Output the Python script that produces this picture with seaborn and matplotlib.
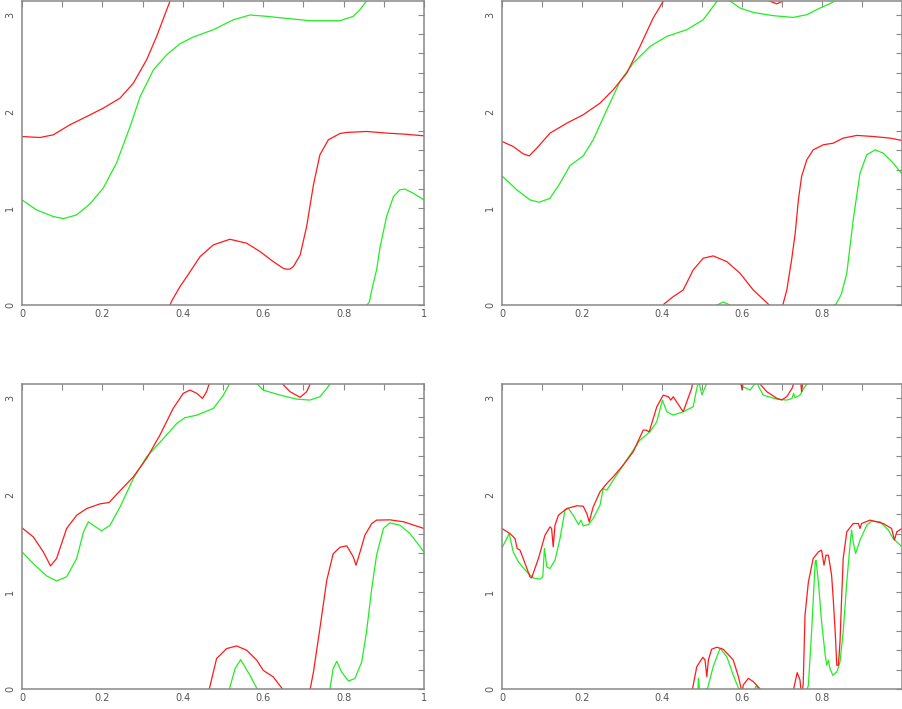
import numpy as np
import matplotlib
matplotlib.use("Agg")
import matplotlib.pyplot as plt
import seaborn as sns
from matplotlib.ticker import MultipleLocator

sns.set_style("white")
plt.rcParams["font.family"] = ["DejaVu Sans"]

PI = np.pi

# ---------------- data (unwrapped phase, shown modulo pi) ----------------
# top-left
tl_red_x = [0, 0.045, 0.078, 0.119, 0.161, 0.202, 0.244, 0.277, 0.310, 0.335, 0.360, 0.372,
            0.393, 0.41, 0.443, 0.476, 0.517, 0.559, 0.592, 0.625, 0.650, 0.658, 0.667, 0.675,
            0.692, 0.708, 0.725, 0.741, 0.762, 0.791, 0.808, 0.857, 0.907, 0.949, 1.0]
tl_red_y = [1.741, 1.731, 1.759, 1.862, 1.948, 2.034, 2.138, 2.293, 2.534, 2.776, 3.052, 3.18,
            3.332, 3.435, 3.642, 3.763, 3.821, 3.780, 3.694, 3.590, 3.521, 3.511, 3.514, 3.538,
            3.659, 3.952, 4.383, 4.693, 4.849, 4.914, 4.925, 4.935, 4.918, 4.908, 4.890]
tl_green_x = [0, 0.036, 0.078, 0.103, 0.136, 0.169, 0.202, 0.235, 0.269, 0.294, 0.327, 0.360,
              0.393, 0.426, 0.476, 0.526, 0.567, 0.609, 0.658, 0.716, 0.791, 0.824, 0.841, 0.853,
              0.864, 0.870, 0.882, 0.891, 0.907, 0.924, 0.940, 0.953, 0.973, 1.0]
tl_green_y = [1.086, 0.983, 0.914, 0.893, 0.931, 1.045, 1.207, 1.466, 1.845, 2.155, 2.431, 2.586,
              2.700, 2.769, 2.845, 2.948, 2.997, 2.983, 2.962, 2.938, 2.938, 2.983, 3.052, 3.121,
              3.17, 3.297, 3.504, 3.745, 4.056, 4.262, 4.332, 4.339, 4.297, 4.228]

# top-right
tr_red_x = [0, 0.028, 0.053, 0.068, 0.087, 0.12, 0.162, 0.203, 0.245, 0.278, 0.312, 0.345, 0.378,
            0.405, 0.428, 0.453, 0.478, 0.503, 0.528, 0.562, 0.595, 0.628, 0.668, 0.687, 0.702,
            0.712, 0.724, 0.733, 0.741, 0.749, 0.762, 0.778, 0.803, 0.828, 0.853, 0.887, 0.928,
            0.97, 1.0]
tr_red_y = [1.690, 1.638, 1.562, 1.541, 1.621, 1.776, 1.879, 1.966, 2.086, 2.224, 2.397, 2.672, 2.966,
            3.152, 3.228, 3.297, 3.504, 3.625, 3.649, 3.590, 3.470, 3.297, 3.142, 3.112, 3.142,
            3.297, 3.608, 3.883, 4.228, 4.470, 4.642, 4.745, 4.797, 4.814, 4.866, 4.894, 4.883,
            4.866, 4.842]
tr_green_x = [0, 0.037, 0.07, 0.093, 0.12, 0.145, 0.17, 0.203, 0.228, 0.262, 0.295, 0.328, 0.37,
              0.412, 0.462, 0.503, 0.528, 0.538, 0.553, 0.57, 0.595, 0.628, 0.678, 0.728, 0.762,
              0.795, 0.82, 0.835, 0.848, 0.862, 0.878, 0.895, 0.912, 0.933, 0.953, 0.978, 1.0]
tr_green_y = [1.334, 1.190, 1.086, 1.062, 1.103, 1.259, 1.441, 1.541, 1.707, 2.017, 2.310, 2.500, 2.672,
              2.776, 2.845, 2.948, 3.086, 3.142, 3.173, 3.142, 3.069, 3.024, 2.990, 2.972, 3.0,
              3.069, 3.114, 3.15, 3.25, 3.470, 4.021, 4.504, 4.694, 4.745, 4.711, 4.608, 4.497]

# bottom-left
bl_red_x = [0, 0.028, 0.053, 0.071, 0.086, 0.111, 0.136, 0.161, 0.194, 0.217, 0.235, 0.277, 0.31,
            0.343, 0.376, 0.401, 0.418, 0.435, 0.449, 0.459, 0.467, 0.484, 0.509, 0.534, 0.559,
            0.584, 0.6, 0.625, 0.648, 0.667, 0.692, 0.708, 0.717, 0.725, 0.741, 0.758, 0.774,
            0.791, 0.808, 0.824, 0.831, 0.841, 0.853, 0.870, 0.882, 0.915, 0.949, 1.0]
bl_red_y = [1.660, 1.567, 1.412, 1.268, 1.344, 1.653, 1.790, 1.859, 1.907, 1.921, 2.003, 2.186, 2.375,
            2.615, 2.890, 3.045, 3.079, 3.045, 2.993, 3.062, 3.16, 3.455, 3.558, 3.585, 3.541,
            3.438, 3.334, 3.266, 3.142, 3.062, 3.004, 3.062, 3.142, 3.317, 3.764, 4.259, 4.534,
            4.602, 4.616, 4.503, 4.417, 4.554, 4.726, 4.846, 4.881, 4.884, 4.864, 4.795]
bl_green_x = [0, 0.028, 0.061, 0.086, 0.111, 0.136, 0.153, 0.165, 0.177, 0.198, 0.219, 0.244, 0.277,
              0.31, 0.352, 0.385, 0.405, 0.435, 0.476, 0.501, 0.516, 0.53, 0.544, 0.567, 0.585,
              0.6, 0.642, 0.683, 0.716, 0.741, 0.758, 0.766, 0.774, 0.783, 0.795, 0.812, 0.828,
              0.845, 0.857, 0.870, 0.882, 0.899, 0.915, 0.94, 0.965, 1.0]
bl_green_y = [1.412, 1.292, 1.165, 1.113, 1.155, 1.344, 1.619, 1.722, 1.687, 1.629, 1.687, 1.876, 2.168,
              2.392, 2.581, 2.735, 2.794, 2.821, 2.890, 3.027, 3.142, 3.352, 3.444, 3.283, 3.142,
              3.079, 3.027, 2.986, 2.976, 3.010, 3.096, 3.142, 3.352, 3.427, 3.317, 3.224, 3.249,
              3.420, 3.730, 4.176, 4.520, 4.795, 4.853, 4.829, 4.743, 4.554]

# bottom-right
br_red_x = [0, 0.02, 0.0325, 0.038, 0.045, 0.053, 0.07, 0.074, 0.091, 0.1075, 0.12, 0.124, 0.128,
            0.1325, 0.141, 0.162, 0.187, 0.203, 0.212, 0.218, 0.228, 0.245, 0.262, 0.278, 0.303,
            0.328, 0.353, 0.36, 0.368, 0.387, 0.403, 0.416, 0.422, 0.428, 0.453, 0.474, 0.477,
            0.487, 0.502, 0.5075, 0.512, 0.516, 0.524, 0.537, 0.553, 0.578, 0.591, 0.597, 0.600,
            0.603, 0.616, 0.628, 0.645, 0.662, 0.687, 0.699, 0.712, 0.725, 0.729, 0.738, 0.745,
            0.749, 0.753, 0.7575, 0.766, 0.778, 0.791, 0.799, 0.805, 0.81, 0.816, 0.824, 0.828,
            0.833, 0.837, 0.841, 0.845, 0.849, 0.853, 0.862, 0.878, 0.891, 0.895, 0.899, 0.92,
            0.953, 0.974, 0.981, 0.987, 1.0]
br_red_y = [1.653, 1.601, 1.550, 1.447, 1.430, 1.344, 1.155, 1.144, 1.344, 1.584, 1.670, 1.653, 1.464,
            1.687, 1.790, 1.859, 1.887, 1.883, 1.808, 1.722, 1.876, 2.031, 2.117, 2.186, 2.306,
            2.443, 2.667, 2.667, 2.649, 2.907, 3.027, 3.010, 2.976, 3.010, 2.856, 3.096, 3.16,
            3.372, 3.468, 3.441, 3.269, 3.441, 3.551, 3.572, 3.551, 3.441, 3.269, 3.162, 3.082,
            3.183, 3.252, 3.218, 3.142, 3.062, 2.994, 2.977, 3.011, 3.096, 3.142, 3.310, 3.235,
            3.062, 3.192, 3.901, 4.245, 4.486, 4.554, 4.572, 4.417, 4.520, 4.520, 4.314, 4.073,
            3.730, 3.386, 3.386, 3.627, 4.073, 4.486, 4.761, 4.846, 4.846, 4.795, 4.846, 4.881,
            4.846, 4.795, 4.675, 4.761, 4.795]
br_green_x = [0, 0.0075, 0.018, 0.028, 0.041, 0.062, 0.078, 0.095, 0.102, 0.106, 0.112, 0.12, 0.1325,
              0.145, 0.1575, 0.166, 0.178, 0.191, 0.1975, 0.203, 0.216, 0.228, 0.245, 0.253, 0.262,
              0.278, 0.303, 0.328, 0.345, 0.37, 0.387, 0.401, 0.412, 0.428, 0.453, 0.478, 0.487,
              0.490, 0.491, 0.494, 0.500, 0.507, 0.511, 0.514, 0.528, 0.545, 0.562, 0.578, 0.591,
              0.595, 0.603, 0.62, 0.632, 0.637, 0.641, 0.653, 0.687, 0.712, 0.725, 0.729, 0.7325,
              0.745, 0.757, 0.763, 0.766, 0.774, 0.783, 0.785, 0.791, 0.799, 0.808, 0.812, 0.816,
              0.82, 0.827, 0.837, 0.845, 0.853, 0.862, 0.87, 0.874, 0.878, 0.884, 0.895, 0.912,
              0.924, 0.945, 0.966, 0.978, 1.0]
br_green_y = [1.454, 1.515, 1.601, 1.412, 1.309, 1.206, 1.144, 1.131, 1.155, 1.447, 1.258, 1.241, 1.326,
              1.550, 1.842, 1.859, 1.790, 1.694, 1.739, 1.680, 1.694, 1.756, 1.893, 2.065, 2.048,
              2.151, 2.306, 2.460, 2.564, 2.649, 2.753, 2.976, 2.856, 2.821, 2.856, 2.907, 3.096,
              3.142, 3.252, 3.13, 3.03, 3.10, 3.142, 3.15, 3.372, 3.561, 3.475, 3.286, 3.152,
              3.142, 3.113, 3.079, 3.142, 3.182, 3.12, 3.027, 2.986, 2.976, 2.993, 3.045, 3.0,
              3.027, 3.113, 3.142, 3.18, 3.730, 4.451, 4.468, 4.245, 3.833, 3.489, 3.386, 3.438,
              3.352, 3.283, 3.317, 3.420, 3.730, 4.245, 4.623, 4.778, 4.657, 4.537, 4.675, 4.829,
              4.871, 4.864, 4.778, 4.692, 4.606]

x_major_left = [0, 0.2, 0.4, 0.6, 0.8, 1.0]
x_labels_left = ["0", "0.2", "0.4", "0.6", "0.8", "1"]
x_major_right = [0, 0.2, 0.4, 0.6, 0.8]
x_labels_right = ["0", "0.2", "0.4", "0.6", "0.8"]
y_major = [0, 1, 2, 3]
y_labels = ["0", "1", "2", "3"]

RED = "#ff1a1a"
GREEN = "#22ee22"

panels = [
    ((22, 1, 424, 305), (tl_red_x, tl_red_y), (tl_green_x, tl_green_y), True),
    ((502, 1, 902, 305), (tr_red_x, tr_red_y), (tr_green_x, tr_green_y), False),
    ((22, 384, 424, 689), (bl_red_x, bl_red_y), (bl_green_x, bl_green_y), True),
    ((502, 384, 902, 689), (br_red_x, br_red_y), (br_green_x, br_green_y), False),
]

W, H = 902, 709
fig = plt.figure(figsize=(W / 100, H / 100), dpi=100)
fig.patch.set_facecolor("white")

for (l, t, r, b), red, green, is_left in panels:
    ax = fig.add_axes([l / W, 1 - b / H, (r - l) / W, (b - t) / H])
    for (xs, ys), col in ((green, GREEN), (red, RED)):
        ys = np.asarray(ys)
        for k in (-1, 0, 1):
            sns.lineplot(x=xs, y=ys + k * PI, color=col, linewidth=0.9, ax=ax,
                         sort=False, estimator=None, legend=False)
    ax.set_xlim(0, 1)
    ax.set_ylim(0, PI)
    if is_left:
        ax.set_xticks(x_major_left)
        ax.set_xticklabels(x_labels_left)
    else:
        ax.set_xticks(x_major_right)
        ax.set_xticklabels(x_labels_right)
    ax.xaxis.set_minor_locator(MultipleLocator(0.1))
    ax.set_yticks(y_major)
    ax.set_yticklabels(y_labels, rotation=90, va="center")
    ax.yaxis.set_minor_locator(MultipleLocator(0.2))
    ax.tick_params(which="both", direction="in", top=True, right=True, length=4,
                   width=0.8, color="#888888", labelsize=7, labelcolor="#555555")
    ax.tick_params(axis="x", pad=3)
    ax.tick_params(axis="y", pad=5)
    for s in ax.spines.values():
        s.set_color("#888888")
        s.set_linewidth(1.1)
    ax.set_xlabel("")
    ax.set_ylabel("")
    ax.grid(False)

fig.savefig("out.png", dpi=100, facecolor="white")
